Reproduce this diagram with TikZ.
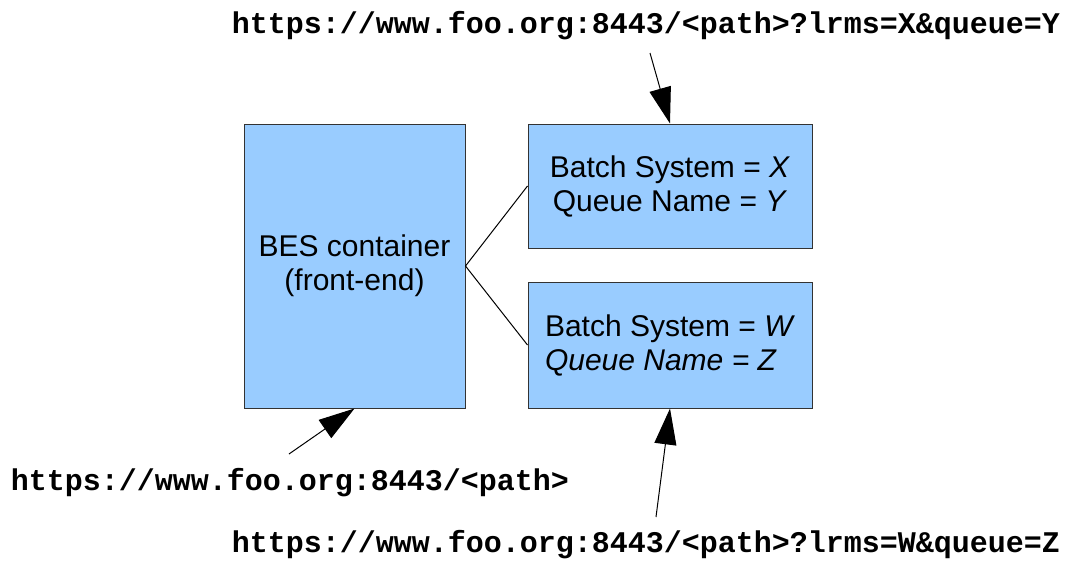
\documentclass[tikz,border=0pt]{standalone}
\usepackage{fontspec}
\setmainfont{Liberation Sans}
\setmonofont{Liberation Mono}
\usetikzlibrary{arrows.meta}
\definecolor{boxblue}{HTML}{99CCFF}
\tikzset{
	box/.style={draw=black!80, line width=1pt, fill=boxblue, inner sep=0pt, font=\fontsize{30}{34}\selectfont},
	url/.style={font=\ttfamily\bfseries\fontsize{30}{34}\selectfont, inner sep=0pt},
	pointer/.style={line width=1pt, -{Triangle[length=36pt,width=22pt]}}
}
\begin{document}
\begin{tikzpicture}[x=1pt, y=-1pt]
				\useasboundingbox (0,0) rectangle (1066,560);
				\node[box, minimum width=221pt, minimum height=284pt, align=center] (BES)at(354.5, 266) {BES container\\(front-end)};
				\node[box, minimum width=284pt, minimum height=124pt, align=center] (XY)at(670, 186) {Batch System = \textit{X}\\Queue Name = \textit{Y}};
				\node[box, minimum width=284pt, minimum height=126pt, align=left] (WZ)at(670, 345) {Batch System = \textit{W}\\\textit{Queue Name = Z}};
				\node[url] (U1)at(646, 26) {https://www.foo.org:8443/<path>?lrms=X\&queue=Y};
				\node[url] (U0)at(290, 483) {https://www.foo.org:8443/<path>};
				\node[url] (U2)at(646, 545) {https://www.foo.org:8443/<path>?lrms=W\&queue=Z};
				\coordinate (P1) at (650, 53);
				\coordinate (P0) at (289, 454);
				\coordinate (P2) at (656, 517);
				\draw[line width=1pt] (BES.east) -- (XY.west);
				\draw[line width=1pt] (BES.east) -- (WZ.west);
				\draw[pointer] (P1) -- (XY.north);
				\draw[pointer] (P0) -- (BES.south);
				\draw[pointer] (P2) -- (WZ.south);
			\end{tikzpicture}
\end{document}
